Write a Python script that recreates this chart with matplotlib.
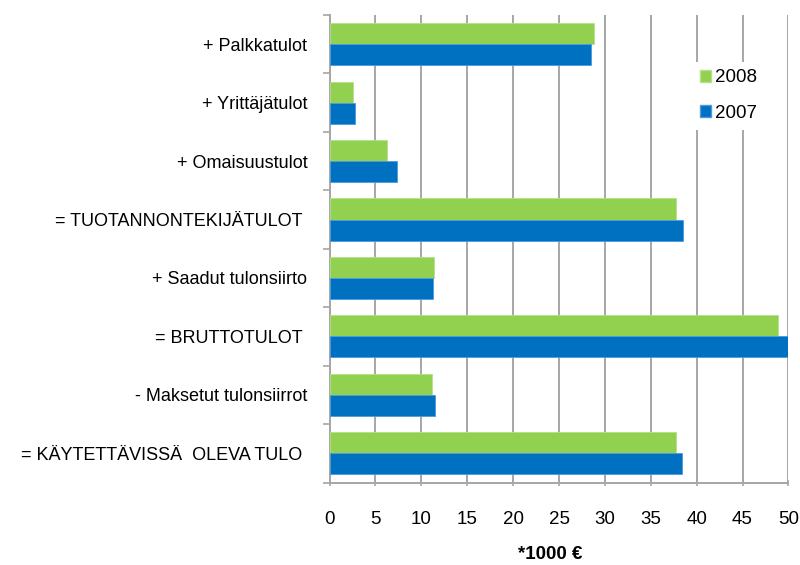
import numpy as np
import matplotlib.pyplot as plt
from matplotlib.patches import Patch

plt.rcParams['font.family'] = ['Liberation Sans', 'DejaVu Sans']

# data (*1000 EUR)
categories = ["+ Palkkatulot", "+ Yrittäjätulot", "+ Omaisuustulot",
              "= TUOTANNONTEKIJÄTULOT ", "+ Saadut tulonsiirto", "= BRUTTOTULOT ",
              "- Maksetut tulonsiirrot", "= KÄYTETTÄVISSÄ  OLEVA TULO "]
values_2008 = [28.8, 2.6, 6.3, 37.7, 11.35, 48.9, 11.2, 37.7]
values_2007 = [28.45, 2.8, 7.3, 38.5, 11.3, 50.0, 11.5, 38.4]
x_ticks = [0, 5, 10, 15, 20, 25, 30, 35, 40, 45, 50]

green = '#92D050'
blue = '#0070C0'
grid_col = '#a6a6a6'

fig = plt.figure(figsize=(8, 5.65), dpi=100)
ax = fig.add_axes([0.412, 0.146, 0.5735, 0.8275])

y = np.arange(len(categories))
h = 0.36
ax.barh(y - h / 2, values_2008, height=h, color=green, edgecolor='#b5e08a', linewidth=0.6, zorder=3)
ax.barh(y + h / 2, values_2007, height=h, color=blue, edgecolor='#4a9be0', linewidth=0.6, zorder=3)

ax.set_xlim(0, 50)
ax.set_ylim(len(categories) - 0.5, -0.5)
ax.set_xticks(x_ticks)
ax.set_xticklabels([str(t) for t in x_ticks], fontsize=13.5)
ax.grid(axis='x', color=grid_col, linewidth=1.4, zorder=0)

# category ticks at boundaries, labels at centres
ax.set_yticks(np.arange(len(categories) + 1) - 0.5)
ax.set_yticklabels([])
ax.set_yticks(y, minor=True)
ax.set_yticklabels(categories, minor=True, fontsize=13)
ax.tick_params(axis='y', which='minor', length=0, pad=16)
ax.tick_params(axis='y', which='major', length=5, color=grid_col, width=1.2)
ax.tick_params(axis='x', length=5, color=grid_col, width=1.2, pad=18, direction='inout')

for s in ['top', 'right']:
    ax.spines[s].set_visible(False)
for s in ['left', 'bottom']:
    ax.spines[s].set_color(grid_col)
    ax.spines[s].set_linewidth(1.4)

ax.set_xlabel('*1000 €', fontsize=13.5, fontweight='bold')
ax.xaxis.set_label_coords(0.48, -0.135)

handles = [Patch(facecolor=green, edgecolor='#b5e08a', label='2008'),
           Patch(facecolor=blue, edgecolor='#4a9be0', label='2007')]
leg = ax.legend(handles=handles, loc='upper left', bbox_to_anchor=(0.77, 0.92),
                frameon=True, fontsize=13.5, handlelength=0.6, handleheight=0.6,
                handletextpad=0.2, labelspacing=1.0, borderpad=0.4)
leg.get_frame().set_edgecolor('none')
leg.get_frame().set_facecolor('white')
leg.get_frame().set_alpha(1)
leg.set_zorder(5)

fig.savefig('out.png', dpi=100)
